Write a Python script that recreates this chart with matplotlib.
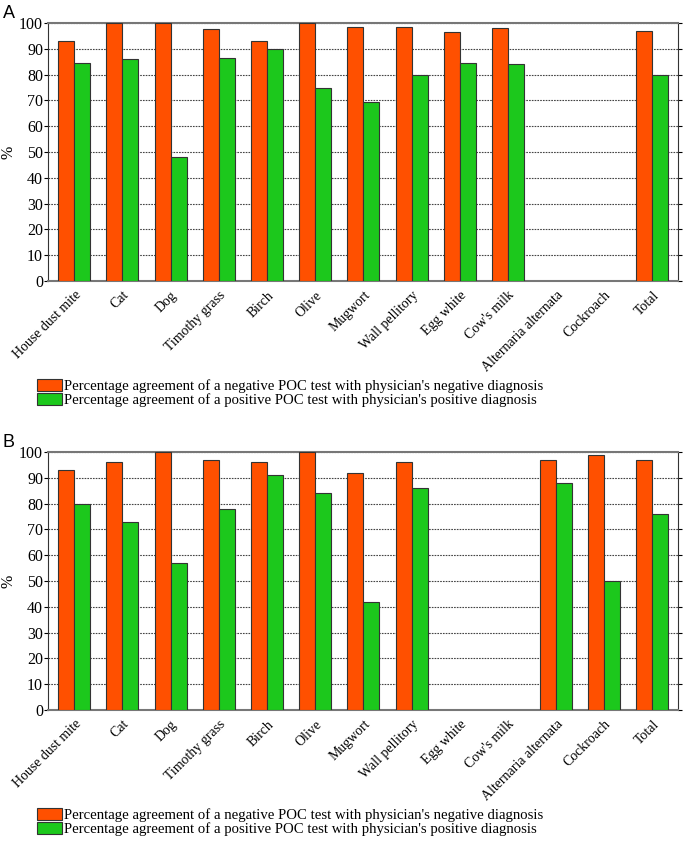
import matplotlib.pyplot as plt
import matplotlib.patches as mpatches
import numpy as np

categories = ["House dust mite", "Cat", "Dog", "Timothy grass", "Birch", "Olive",
              "Mugwort", "Wall pellitory", "Egg white", "Cow's milk",
              "Alternaria alternata", "Cockroach", "Total"]

# panel A (NaN = no bar)
neg_a = [93, 100, 100, 97.5, 93, 100, 98.5, 98.5, 96.5, 98, np.nan, np.nan, 97]
pos_a = [84.5, 86, 48, 86.3, 90, 75, 69.3, 80, 84.5, 84, np.nan, np.nan, 80]

# panel B
neg_b = [93, 96, 100, 97, 96, 100, 92, 96, np.nan, np.nan, 97, 99, 97]
pos_b = [80, 73, 57, 78, 91, 84, 42, 86, np.nan, np.nan, 88, 50, 76]

legend_labels = ["Percentage agreement of a negative POC test with physician's negative diagnosis",
                 "Percentage agreement of a positive POC test with physician's positive diagnosis"]

RED = "#FF5000"
GREEN = "#1CC81C"
SERIF = "Liberation Serif"

fig = plt.figure(figsize=(6.85, 8.43), dpi=100)


def panel(rect, neg, pos, letter, legend_y):
    ax = fig.add_axes(rect)
    x = np.arange(len(categories))
    w = 0.332
    ax.bar(x - w / 2, neg, w, color=RED, edgecolor="#333333", linewidth=0.8, zorder=3)
    ax.bar(x + w / 2, pos, w, color=GREEN, edgecolor="#333333", linewidth=0.8, zorder=3)
    ax.set_xlim(-0.546, 12.534)
    ax.set_ylim(0, 100)
    ax.set_yticks(range(0, 101, 10))
    ax.yaxis.grid(True, linestyle=(0, (1.5, 1)), color="#444444", linewidth=0.8, zorder=0)
    ax.tick_params(axis="y", which="both", direction="out", length=3, right=True,
                   labelsize=11.5, pad=0.5)
    ax.tick_params(axis="x", length=0, labelsize=10, pad=5.5)
    ax.set_xticks(x)
    ax.set_xticklabels(categories, rotation=45, ha="right", rotation_mode="anchor",
                       fontfamily=SERIF)
    for lab in ax.get_yticklabels():
        lab.set_fontfamily(SERIF)
    ax.set_ylabel("%", fontfamily=SERIF, fontsize=11.5, va="center")
    ax.yaxis.set_label_coords(-0.062, 0.5)
    for s in ["top", "bottom"]:
        ax.spines[s].set_color("#777777")
        ax.spines[s].set_linewidth(1.5)
    ax.spines["left"].set_color("#333333")
    ax.spines["right"].set_color("#333333")
    fig.text(0.004, rect[1] + rect[3] + 0.0215, letter, fontsize=13,
             fontfamily="Liberation Sans", va="top")
    handles = [mpatches.Patch(facecolor=RED, edgecolor="#333333", linewidth=0.8),
               mpatches.Patch(facecolor=GREEN, edgecolor="#333333", linewidth=0.8)]
    fig.legend(handles, legend_labels, loc="upper left", bbox_to_anchor=(0.054, legend_y),
               frameon=False, prop={"family": SERIF, "size": 10.6},
               handlelength=1.7, handleheight=0.85, handletextpad=0.15,
               labelspacing=0.0, borderaxespad=0, borderpad=0)
    return ax


panel([0.070, 0.6667, 0.920, 0.306], neg_a, pos_a, "A", 0.550)
panel([0.070, 0.1578, 0.920, 0.306], neg_b, pos_b, "B", 0.041)

fig.savefig("out.png", dpi=100)
